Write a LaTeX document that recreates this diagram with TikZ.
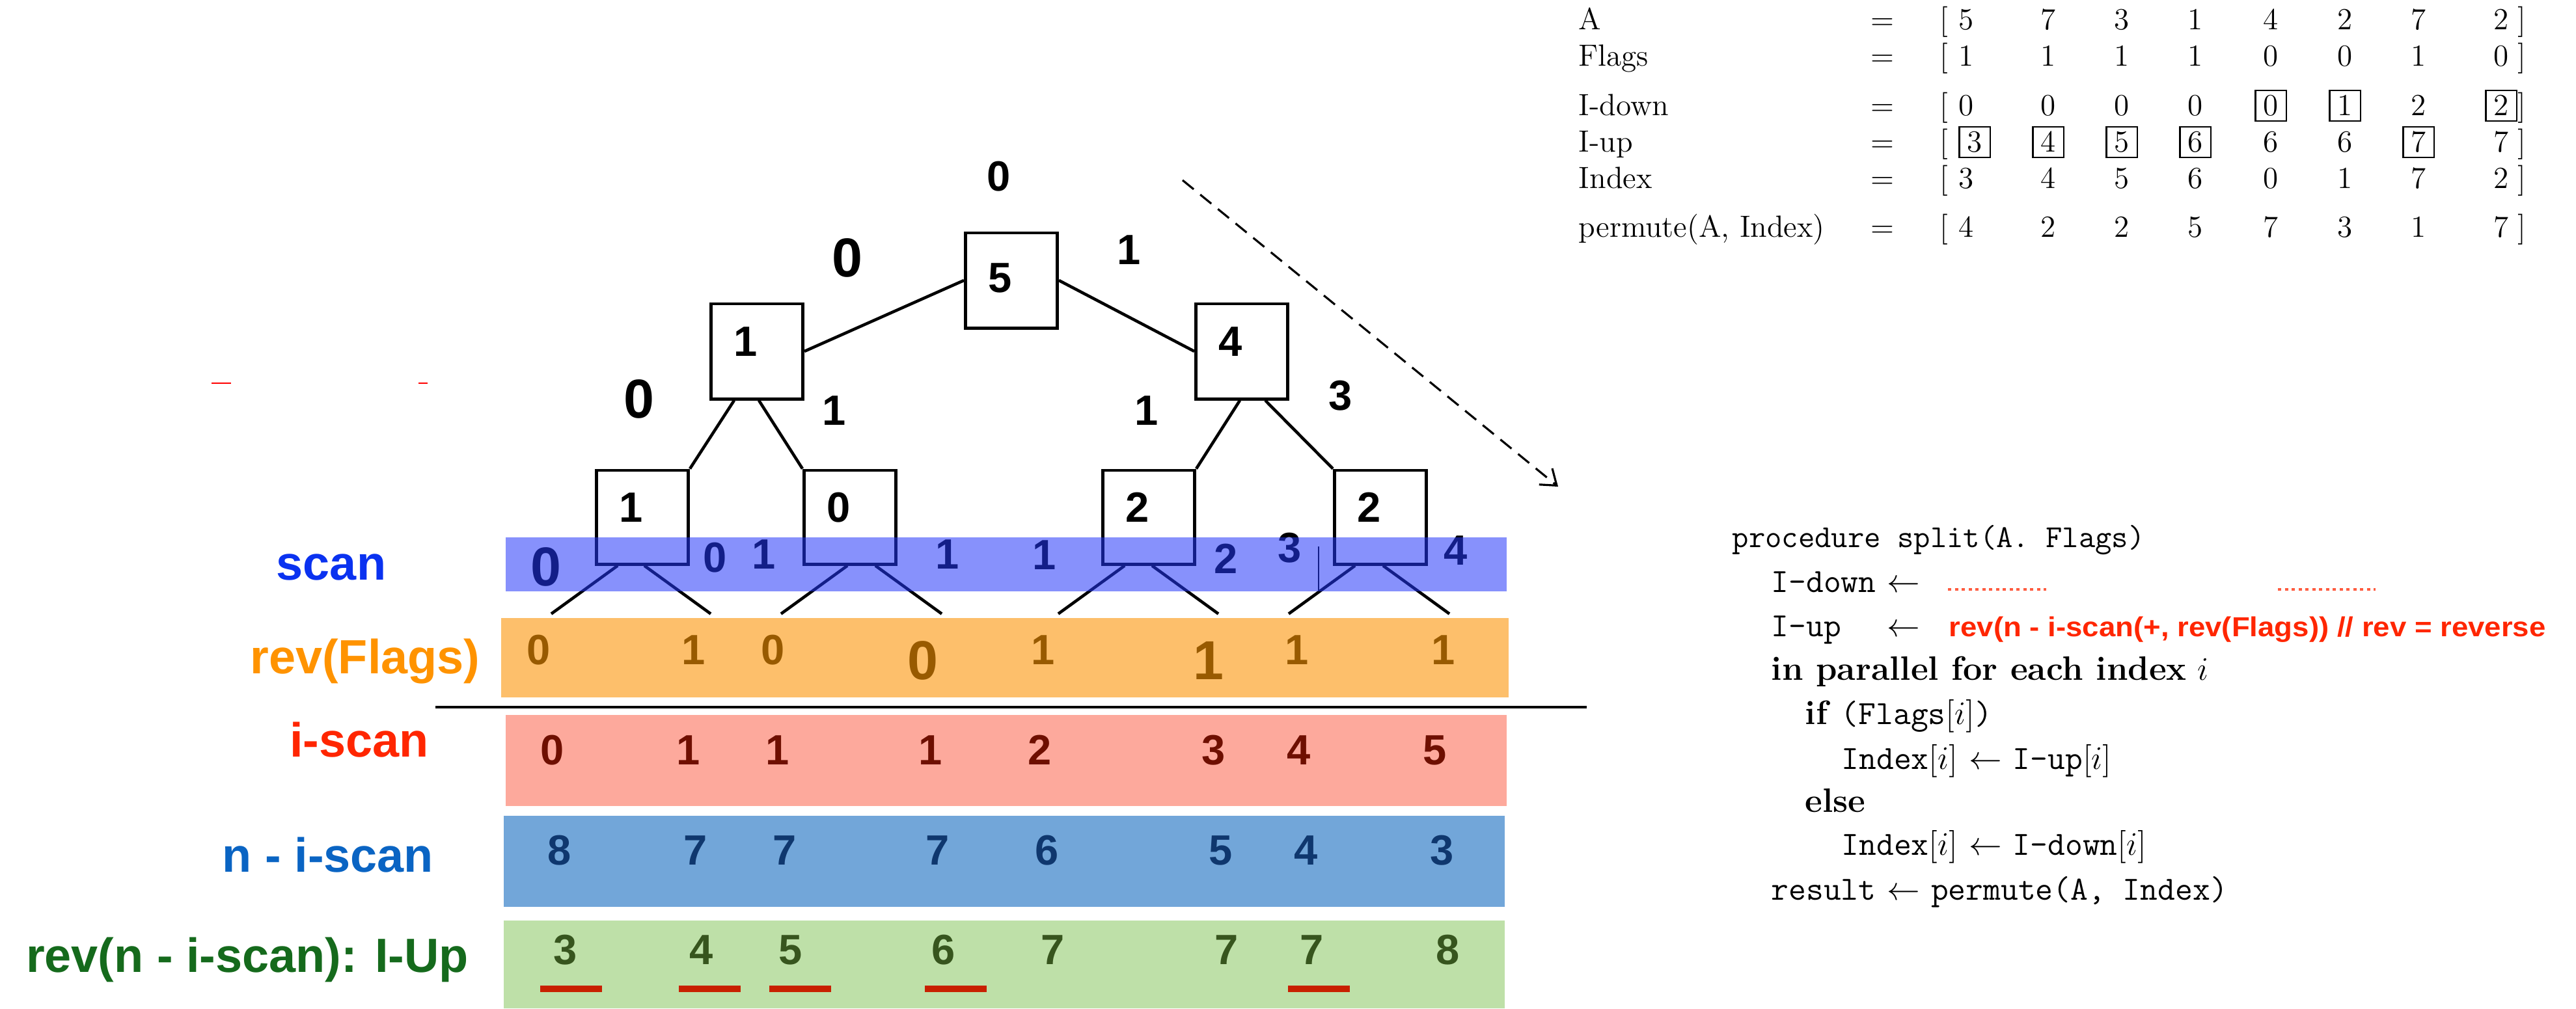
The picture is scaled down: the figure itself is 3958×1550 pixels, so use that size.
\documentclass[tikz,border=0pt]{standalone}
\usepackage{fontspec}
\newfontfamily\labelfont{Liberation Sans}
\newfontfamily\redcodefont{Liberation Sans}[FakeStretch=1.08]
\usetikzlibrary{arrows.meta}

\definecolor{scanblue}{RGB}{36,55,249}
\definecolor{scanlabel}{RGB}{10,50,240}
\definecolor{flagfill}{RGB}{253,191,107}
\definecolor{flagtext}{RGB}{152,90,0}
\definecolor{flaglabel}{RGB}{255,147,0}
\definecolor{iscanfill}{RGB}{253,169,156}
\definecolor{iscantext}{RGB}{110,15,0}
\definecolor{iscanlabel}{RGB}{255,38,0}
\definecolor{nscanfill}{RGB}{114,166,217}
\definecolor{nscantext}{RGB}{15,55,110}
\definecolor{nscanlabel}{RGB}{10,100,195}
\definecolor{iupfill}{RGB}{190,224,168}
\definecolor{iuptext}{RGB}{55,85,30}
\definecolor{iuplabel}{RGB}{21,106,28}
\definecolor{marker}{RGB}{200,32,0}

\begin{document}
\begin{tikzpicture}[
    x=0.01cm, y=-0.01cm,
    tnum/.style={inner sep=0pt, font=\labelfont\bfseries\fontsize{18.5}{20}\selectfont},
    bignum/.style={inner sep=0pt, font=\labelfont\bfseries\fontsize{24}{26}\selectfont},
    tbox/.style={draw, line width=1.4pt, minimum width=1.41cm, minimum height=1.46cm, inner sep=0pt},
    boxnum/.style={tnum, xshift=-0.17cm, yshift=0.15cm},
    edge/.style={line width=1.3pt},
    rowlabel/.style={anchor=base, inner sep=0pt, font=\labelfont\bfseries\fontsize{21}{25}\selectfont},
    mtext/.style={anchor=base west, inner sep=0pt, font=\fontsize{13.4}{16}\selectfont},
    mnum/.style={anchor=base, inner sep=0pt, font=\fontsize{13.4}{16}\selectfont},
    valbox/.style={draw, line width=0.6pt, minimum size=0.47cm, inner sep=0pt},
    code/.style={anchor=base west, inner sep=0pt, font=\fontsize{14.8}{17}\selectfont},
    redcode/.style={code, text=iscanlabel, font=\redcodefont\bfseries\fontsize{12}{14}\selectfont},
    dots/.style={iscanlabel!75, line width=0.045cm, dash pattern=on 0.05cm off 0.055cm}
]
\useasboundingbox (0,0) rectangle (3958,1550);

% tree of partial sums
\node[tbox, label={[boxnum, yshift=-0.11cm]center:5}] (root) at (1554,431) {};
\node[tbox, label={[boxnum]center:1}] (left) at (1163,540) {};
\node[tbox, label={[boxnum]center:4}] (right) at (1908,540) {};
\node[tbox, minimum height=1.44cm, label={[boxnum]center:1}] (leafa) at (987,795) {};
\node[tbox, minimum height=1.44cm, label={[boxnum]center:0}] (leafb) at (1306,795) {};
\node[tbox, minimum height=1.44cm, label={[boxnum]center:2}] (leafc) at (1765,795) {};
\node[tbox, minimum height=1.44cm, label={[boxnum]center:2}] (leafd) at (2121,795) {};

\draw[edge] (root.west) -- (left.east);
\draw[edge] (root.east) -- (right.west);
\draw[edge] ([xshift=-0.35cm]left.south) -- (leafa.north east);
\draw[edge] ([xshift=0.03cm]left.south) -- (leafb.north west);
\draw[edge] ([xshift=-0.03cm]right.south) -- (leafc.north east);
\draw[edge] ([xshift=0.36cm]right.south) -- (leafd.north west);
\foreach \leaf/\a/\b in {leafa/-38/3, leafb/-4/39, leafc/-37/5, leafd/-39/4} {
    \draw[edge] ([xshift=\a*0.01cm]\leaf.south) -- ++(-102,74);
    \draw[edge] ([xshift=\b*0.01cm]\leaf.south) -- ++(102,74);
}

% values passed down
\node[tnum] (down-root) at (1535,271) {0};
\node[bignum] (down-l) at (1302,396) {0};
\node[tnum] (down-r) at (1735,384) {1};
\node[bignum] (down-ll) at (982,613) {0};
\node[tnum] (down-lr) at (1282,631) {1};
\node[tnum] (down-rl) at (1762,631) {1};
\node[tnum] (down-rr) at (2060,608) {3};

\coordinate (from) at (1817,277);
\coordinate (to) at (2394,748);
\draw[line width=0.9pt, dash pattern=on 0.22cm off 0.13cm, -{Straight Barb[length=0.22cm, width=0.32cm]}] (from) -- (to);

% scan row (shaded over the leaves)
\node[bignum] (scan-1) at (839,871) {0};
\foreach \x/\yy/\v [count=\i from 2] in {1099/857/0, 1174/852/1, 1456/852/1, 1605/853/1, 1884/859/2, 1982/842/3, 2237/846/4}
    \node[tnum] (scan-\i) at (\x,\yy) {\v};
\draw[line width=0.5pt] (2026,840) -- (2026,909);
\fill[scanblue, fill opacity=0.55] (777,826) rectangle (2315,909);

% rev(Flags)
\fill[flagfill] (770,950) rectangle (2318,1072);
\foreach \x/\v [count=\i] in {828/0, 1066/1, 1188/0, 1603/1, 1993/1, 2218/1}
    \node[tnum, text=flagtext] (flag-\i) at (\x,999) {\v};
\node[bignum, text=flagtext] (flag-big0) at (1418,1015) {0};
\node[bignum, text=flagtext] (flag-big1) at (1857,1015) {1};

\coordinate (sepL) at (669,1087);
\coordinate (sepR) at (2438,1087);
\draw[line width=1.4pt] (sepL) -- (sepR);

% i-scan, n - i-scan, I-up
\fill[iscanfill] (777,1099) rectangle (2315,1239);
\fill[nscanfill] (774,1254) rectangle (2312,1394);
\fill[iupfill] (774,1415) rectangle (2312,1550);
\foreach \row/\yy/\dx/\col/\vals in {
    iscan/1153/0/iscantext/{0,1,1,1,2,3,4,5},
    nscan/1307/11/nscantext/{8,7,7,7,6,5,4,3},
    iup/1460/20/iuptext/{3,4,5,6,7,7,7,8}}
    \foreach \v [count=\i] in \vals {
        \pgfmathsetmacro\xx{{849,1058,1195,1430,1598,1865,1996,2205}[\i-1]+\dx}
        \node[tnum, text=\col] (\row-\i) at (\xx,\yy) {\v};
    }
\foreach \x in {830,1043,1182,1421,1979}
    \fill[marker] (\x,1515) rectangle ++(95,10);

% row labels
\node[rowlabel, text=scanlabel] (scanlab) at (509,891) {scan};
\node[rowlabel, text=flaglabel] (flaglab) at (561,1035) {rev(Flags)};
\node[rowlabel, text=iscanlabel] (iscanlab) at (552,1163) {i-scan};
\node[rowlabel, text=nscanlabel] (nscanlab) at (504,1340) {n - i-scan};
\node[rowlabel, text=iuplabel] (iuplab) at (380,1494) {rev(n - i-scan): I-Up};
\draw[red, line width=0.8pt] (325,589) -- (355,589);
\draw[red, line width=0.8pt] (643,589) -- (657,589);

% worked example
\node[mtext] (A-lab) at (2425,45) {A};
\node[mtext] (Flags-lab) at (2425,101) {Flags};
\node[mtext] (Idown-lab) at (2425,177) {I-down};
\node[mtext] (Iup-lab) at (2425,233) {I-up};
\node[mtext] (Index-lab) at (2425,289) {Index};
\node[mtext] (perm-lab) at (2425,364) {permute(A, Index)};
\foreach \yy/\vals [count=\row] in {45/{5,7,3,1,4,2,7,2}, 101/{1,1,1,1,0,0,1,0},
        177/{0,0,0,0,0,1,2,2}, 233/{3,4,5,6,6,6,7,7}, 289/{3,4,5,6,0,1,7,2}, 364/{4,2,2,5,7,3,1,7}} {
    \node[mnum] (eq-\row) at (2892,\yy) {=};
    \node[mnum] (lb-\row) at (2987,\yy) {[};
    \node[mnum] (rb-\row) at (3875,\yy) {]};
    \foreach \v [count=\i] in \vals {
        % the boxed first entry of I-up sits a little further right
        \pgfmathsetmacro\xx{{3021,3147,3260,3373,3489,3603,3716,3843}[\i-1]+(\row==4)*(\i==1)*13}
        \node[mnum] (m-\row-\i) at (\xx,\yy) {\v};
    }
}
\foreach \i in {5,6,8}
    \node[valbox] at ([yshift=0.145cm]m-3-\i.base) {};
\foreach \i in {1,2,3,4,7}
    \node[valbox] at ([yshift=0.145cm]m-4-\i.base) {};

% split procedure
\node[code, font=\fontsize{14}{17}\selectfont] (p1) at (2661,841) {\texttt{procedure split(A. Flags)}};
\node[code] (p2) at (2721,910) {\texttt{I-down} $\leftarrow$};
\draw[dots] (2993,906) -- (3144,906);
\draw[dots] (3500,906) -- (3650,906);
\node[code] (p3) at (2721,978) {\texttt{I-up\ \ } $\leftarrow$};
\node[redcode] (p3r) at (2994,978) {rev(n - i-scan(+, rev(Flags)) // rev = reverse};
\node[code] (p4) at (2721,1045) {\textbf{in parallel for each index} $i$};
\node[code] (p5) at (2773,1113) {\textbf{if} \texttt{(Flags}$[i]$\texttt{)}};
\node[code] (p6) at (2829,1182) {\texttt{Index}$[i]$ $\leftarrow$ \texttt{I-up}$[i]$};
\node[code] (p7) at (2773,1248) {\textbf{else}};
\node[code] (p8) at (2829,1314) {\texttt{Index}$[i]$ $\leftarrow$ \texttt{I-down}$[i]$};
\node[code] (p9) at (2721,1383) {\texttt{result} $\leftarrow$ \texttt{permute(A, Index)}};

\end{tikzpicture}
\end{document}
